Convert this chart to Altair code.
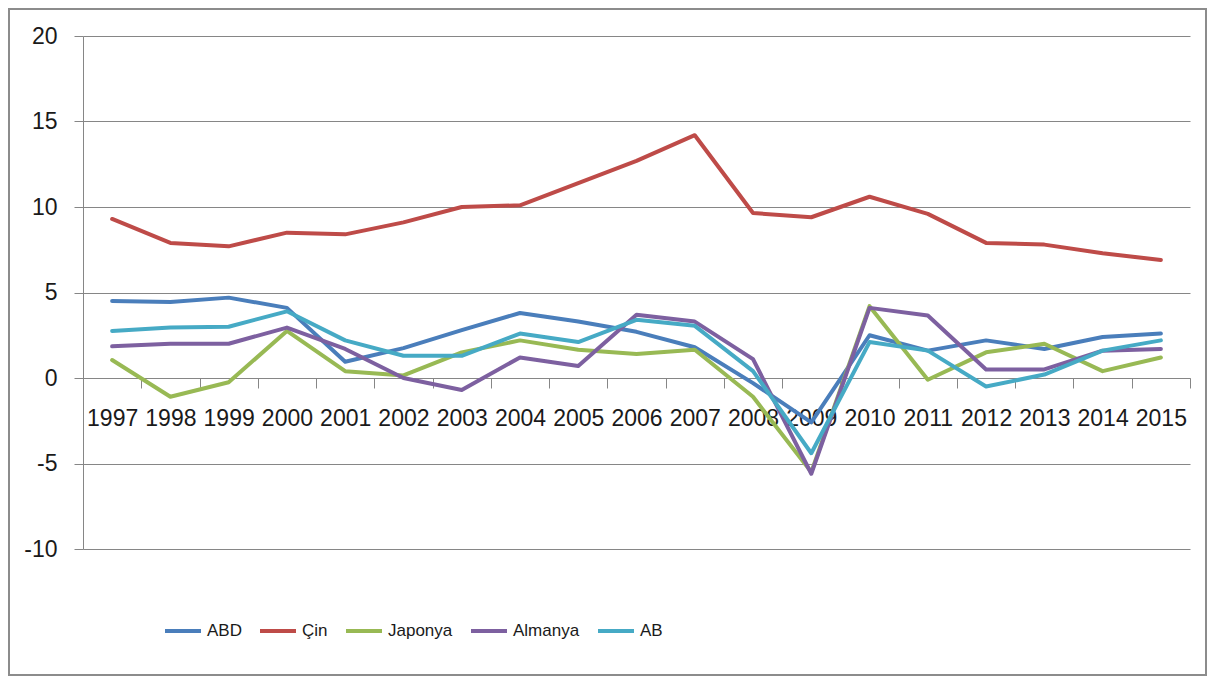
import altair as alt
import pandas as pd

years = [str(y) for y in range(1997, 2016)]
countries = ["ABD", "Çin", "Japonya", "Almanya", "AB"]
colors = ["#4A7EBB", "#BE4B48", "#98B954", "#7D60A0", "#46AAC5"]

abd = [4.5, 4.45, 4.7, 4.1, 0.95, 1.75, 2.8, 3.8, 3.3, 2.7, 1.8, -0.3, -2.6, 2.5, 1.6, 2.2, 1.7, 2.4, 2.6]
cin = [9.3, 7.9, 7.7, 8.5, 8.4, 9.1, 10.0, 10.1, 11.4, 12.7, 14.2, 9.65, 9.4, 10.6, 9.6, 7.9, 7.8, 7.3, 6.9]
japonya = [1.05, -1.1, -0.25, 2.75, 0.4, 0.15, 1.5, 2.2, 1.65, 1.4, 1.65, -1.1, -5.5, 4.2, -0.1, 1.5, 2.0, 0.4, 1.2]
almanya = [1.85, 2.0, 2.0, 2.95, 1.7, 0.0, -0.7, 1.2, 0.7, 3.7, 3.3, 1.1, -5.6, 4.1, 3.65, 0.5, 0.5, 1.6, 1.7]
ab = [2.75, 2.95, 3.0, 3.9, 2.2, 1.3, 1.3, 2.6, 2.1, 3.4, 3.05, 0.4, -4.4, 2.1, 1.6, -0.5, 0.2, 1.6, 2.2]

series = [abd, cin, japonya, almanya, ab]
rows = []
for name, vals in zip(countries, series):
    for yr, v in zip(years, vals):
        rows.append({"Yıl": yr, "Ülke": name, "Değer": v})
df = pd.DataFrame(rows)

W, H = 1107, 513
FONT = "Liberation Sans"

lines = alt.Chart(df).mark_line(strokeWidth=4, strokeJoin="round", strokeCap="round").encode(
    x=alt.X("Yıl:O", sort=years,
            scale=alt.Scale(type="band", paddingInner=0, paddingOuter=0),
            axis=alt.Axis(title=None, labelAngle=0, orient="bottom", offset=-171,
                          tickBand="extent", tickSize=10, tickColor="#868686",
                          domainColor="#868686", labelPadding=19, labelFontSize=23,
                          labelFont=FONT, labelColor="#1a1a1a", grid=False,
                          labelOverlap=False)),
    y=alt.Y("Değer:Q",
            scale=alt.Scale(domain=[-10, 20], nice=False, zero=False),
            axis=alt.Axis(title=None, values=[-10, -5, 0, 5, 10, 15, 20], tickSize=9,
                          labelExpr="toString(datum.value)",
                          tickColor="#868686", domainColor="#868686", gridColor="#868686",
                          gridOpacity=1, labelPadding=17, labelFontSize=23, labelFont=FONT,
                          labelColor="#1a1a1a")),
    color=alt.Color("Ülke:N", sort=countries,
                    scale=alt.Scale(domain=countries, range=colors),
                    legend=alt.Legend(title=None, orient="none", legendX=80, legendY=575,
                                      direction="horizontal", columns=5, columnPadding=10,
                                      symbolType="stroke", symbolSize=1296,
                                      symbolStrokeWidth=4, labelOffset=4, labelFontSize=17,
                                      labelFont=FONT, labelColor="#1a1a1a",
                                      labelLimit=200)),
    order=alt.Order("Yıl:O"),
)

border = alt.Chart(pd.DataFrame({"k": [0]})).mark_rect(
    fill=None, stroke="#8c8c8c", strokeWidth=2
).encode(
    x=alt.value(-74), x2=alt.value(W + 16),
    y=alt.value(-27), y2=alt.value(H + 126),
)

chart = alt.layer(border, lines).properties(
    width=W, height=H,
    autosize=alt.AutoSizeParams(type="none"),
    padding={"left": 75, "top": 28, "right": 17, "bottom": 127},
).configure_view(stroke=None)

chart.save("out.html", embed_options={"renderer": "svg", "actions": False})
